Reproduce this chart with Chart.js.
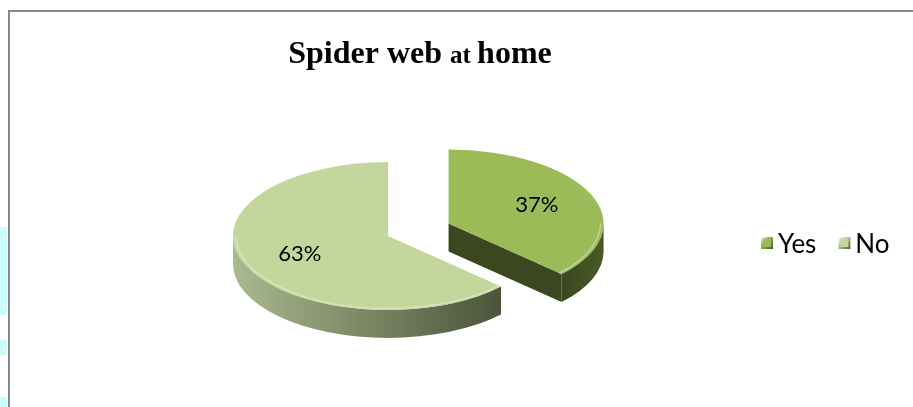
<!DOCTYPE html>
<html>
<head>
<meta charset="utf-8">
<title>Spider web at home</title>
<script src="https://cdn.jsdelivr.net/npm/chart.js@4/dist/chart.umd.min.js"></script>
<style>
  html, body { margin: 0; padding: 0; background: #fff; overflow: hidden; }
  #page { position: relative; width: 913px; height: 407px; overflow: hidden; }
  .tint { position: absolute; left: 0; width: 7px; background: #cdfcfc; }
  #frame { position: absolute; left: 8px; top: 10px; width: 1000px; height: 600px;
           border-left: 2px solid #878787; border-top: 2px solid #878787; }
  #myChart1 { position: absolute; left: 0; top: 0; }
</style>
</head>
<body>
<div id="page">
  <div class="tint" style="top:227px;height:88px"></div>
  <div class="tint" style="top:340px;height:15px"></div>
  <div class="tint" style="top:397px;height:10px"></div>
  <div id="frame"></div>
  <canvas id="myChart1" width="913" height="407"></canvas>
</div>
<script>
var labels = ["Yes", "No"];
var values = [37, 63];
var topColors = ["#9bbb59", "#c3d69b"];
var wallColors = [["#3b471f", "#4a5927"], ["#aab98f", "#4a5439"]];
var explode = [66, 0];

var TILT = 0.477;   // height / width of the pie top
var DEPTH = 28;     // thickness of the pie
var LABEL_FONT = "22px Lato";

(function() {
	var ctx = document.getElementById("myChart1").getContext("2d");

	function centerY(chart) {
		return (chart.chartArea.top + chart.chartArea.bottom) / 2;
	}

	var pie3d = {
		id: "pie3d",
		afterDatasetsUpdate: function(chart) {
			chart.getDatasetMeta(0).data.forEach(function(arc, i) {
				var mid = (arc.startAngle + arc.endAngle) / 2;
				arc.x += Math.cos(mid) * explode[i];
				arc.y += Math.sin(mid) * explode[i];
			});
		},
		beforeDatasetsDraw: function(chart) {
			var c = chart.ctx;
			var cy = centerY(chart);
			var arcs = chart.getDatasetMeta(0).data;

			arcs.forEach(function(arc, i) {
				var r = arc.outerRadius;
				var x = arc.x;
				var y = cy + (arc.y - cy) * TILT;
				var ry = r * TILT;
				var a0 = arc.startAngle, a1 = arc.endAngle;

				// cut faces that turn toward the viewer
				[[a1, Math.cos(a1) > 0.01], [a0, Math.cos(a0) < -0.01]].forEach(function(f) {
					if (!f[1]) return;
					var ex = x + r * Math.cos(f[0]), ey = y + ry * Math.sin(f[0]);
					c.beginPath();
					c.moveTo(x, y);
					c.lineTo(ex, ey);
					c.lineTo(ex, ey + DEPTH);
					c.lineTo(x, y + DEPTH);
					c.closePath();
					c.fillStyle = wallColors[i][0];
					c.fill();
				});

				// outer wall on the front half, light on the left, dark on the right
				var s = Math.max(a0, 0), e = Math.min(a1, Math.PI);
				if (e > s) {
					var xs = x + r * Math.cos(s), xe = x + r * Math.cos(e);
					var g = c.createLinearGradient(Math.min(xs, xe), 0, Math.max(xs, xe), 0);
					g.addColorStop(0, wallColors[i][0]);
					g.addColorStop(1, wallColors[i][1]);
					c.beginPath();
					c.ellipse(x, y, r, ry, 0, s, e);
					c.ellipse(x, y + DEPTH, r, ry, 0, e, s, true);
					c.closePath();
					c.fillStyle = g;
					c.fill();
				}
			});

			c.save();
			c.translate(0, cy);
			c.scale(1, TILT);
			c.translate(0, -cy);
		},
		afterDatasetsDraw: function(chart) {
			var c = chart.ctx;
			c.restore();
			var cy = centerY(chart);

			// soft highlight along the front rim
			chart.getDatasetMeta(0).data.forEach(function(arc) {
				var s = Math.max(arc.startAngle, 0), e = Math.min(arc.endAngle, Math.PI);
				if (e <= s) return;
				c.beginPath();
				c.ellipse(arc.x, cy + (arc.y - cy) * TILT, arc.outerRadius - 3, (arc.outerRadius - 3) * TILT, 0, s, e);
				c.strokeStyle = "rgba(255,255,255,0.35)";
				c.lineWidth = 1.5;
				c.stroke();
			});
		},
		afterDraw: function(chart) {
			var c = chart.ctx;
			var cy = centerY(chart);
			var total = values.reduce(function(a, b) { return a + b; }, 0);

			// percentage labels
			c.save();
			c.font = LABEL_FONT;
			c.fillStyle = "#000";
			c.textAlign = "center";
			c.textBaseline = "middle";
			chart.getDatasetMeta(0).data.forEach(function(arc, i) {
				var mid = (arc.startAngle + arc.endAngle) / 2;
				var lx = arc.x + Math.cos(mid) * arc.outerRadius * 0.62;
				var ly = arc.y + Math.sin(mid) * arc.outerRadius * 0.62;
				c.fillText(Math.round(values[i] / total * 100) + "%", lx, cy + (ly - cy) * TILT);
			});
			c.restore();

			// title, "at" set smaller
			var parts = [["Spider web ", 32], ["at ", 25], ["home", 32]];
			c.save();
			c.fillStyle = "#000";
			c.textBaseline = "alphabetic";
			var w = 0;
			parts.forEach(function(p) {
				c.font = "bold " + p[1] + "px 'Liberation Serif'";
				p.push(c.measureText(p[0]).width);
				w += p[2];
			});
			var tx = 420 - w / 2;
			parts.forEach(function(p) {
				c.font = "bold " + p[1] + "px 'Liberation Serif'";
				c.fillText(p[0], tx, 63);
				tx += p[2];
			});
			c.restore();

			// legend on one row
			c.save();
			c.font = "26px Lato";
			c.textBaseline = "alphabetic";
			var lx = 761, ly = 243;
			labels.forEach(function(label, i) {
				var g = c.createLinearGradient(lx, ly - 6, lx + 12, ly + 6);
				g.addColorStop(0, "#ffffff");
				g.addColorStop(0.35, topColors[i]);
				g.addColorStop(1, wallColors[i][1]);
				c.fillStyle = g;
				c.fillRect(lx, ly - 6, 12, 12);
				c.fillStyle = topColors[i];
				c.fillRect(lx + 2, ly - 4, 8, 8);
				c.fillStyle = "#000";
				c.fillText(label, lx + 17, 253);
				lx += 17 + c.measureText(label).width + 22;
			});
			c.restore();
		}
	};

	var data = {
		labels: labels,
		datasets: [{
			data: values,
			backgroundColor: topColors,
			borderWidth: 0,
			clip: false
		}]
	};

	var options = {
		responsive: false,
		animation: false,
		radius: 155,
		layout: { padding: { left: 0, right: 137, top: 65, bottom: 0 } },
		plugins: {
			legend: { display: false },
			title: { display: false },
			tooltip: { enabled: false }
		}
	};

	new Chart(ctx, { type: "pie", data: data, options: options, plugins: [pie3d] });
})();
</script>
</body>
</html>
